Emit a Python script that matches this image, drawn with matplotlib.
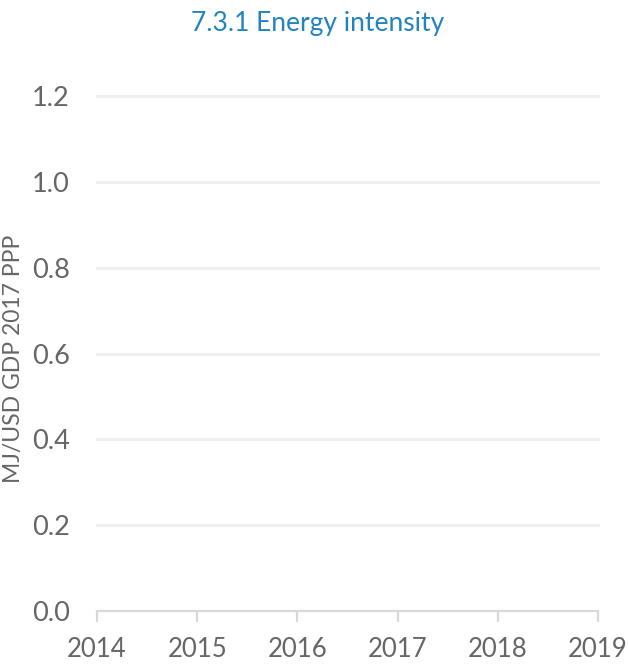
import matplotlib.pyplot as plt

# chart has no data points, only the empty frame
years = [2014, 2015, 2016, 2017, 2018, 2019]
y_ticks = [0.0, 0.2, 0.4, 0.6, 0.8, 1.0, 1.2]
values = []  # no energy intensity values shown

plt.rcParams['font.family'] = ['Lato', 'DejaVu Sans']

fig = plt.figure(figsize=(6.28, 6.66), dpi=100)
ax = fig.add_axes([97 / 628, 1 - 611 / 666, (598 - 97) / 628, (611 - 96) / 666])

ax.plot(years[:len(values)], values, color="#1f7fb8")

ax.set_xlim(years[0], years[-1])
ax.set_ylim(y_ticks[0], y_ticks[-1])
ax.set_xticks(years)
ax.set_yticks(y_ticks)
ax.set_xticklabels([str(y) for y in years])
ax.set_yticklabels([f"{v:.1f}" for v in y_ticks])

# gridlines
for v in y_ticks[1:]:
    ax.axhline(v, color="#efefef", linewidth=2.2, clip_on=False, zorder=0)

for side in ["top", "right", "left"]:
    ax.spines[side].set_visible(False)
ax.spines["bottom"].set_color("#d9d9d9")
ax.spines["bottom"].set_linewidth(1.6)

ax.tick_params(axis="y", length=0, pad=19.5, labelsize=19.5, labelcolor="#666666")
ax.tick_params(axis="x", length=8, width=1.6, color="#d9d9d9", pad=11,
               labelsize=18.5, labelcolor="#666666")

ax.set_ylabel("MJ/USD GDP 2017 PPP", fontsize=16.5, color="#666666")
ax.yaxis.set_label_coords(-0.146, 0.49)

fig.text(318 / 628, 1 - 23 / 666, "7.3.1 Energy intensity", ha="center", va="center",
         fontsize=19, color="#2283bd")

fig.savefig("out.png", dpi=100)
